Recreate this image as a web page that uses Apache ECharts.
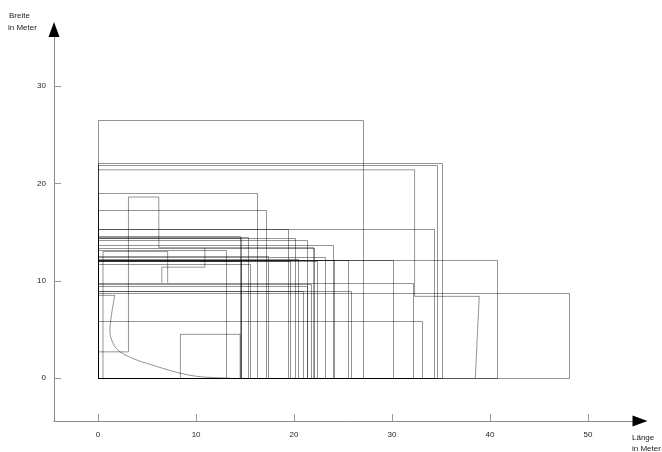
<!DOCTYPE html>
<html>
<head>
<meta charset="utf-8">
<script src="https://cdn.jsdelivr.net/npm/echarts@6/dist/echarts.min.js"></script>
<style>
    html, body { margin: 0; padding: 0; background: #fff; }
    #chart { width: 662px; height: 452px; }
</style>
</head>
<body>
<div id="chart"></div>
<script>
    // Länge / Breite der Rechtecke (alle ab Ursprung)
    var rectLength = [27.0, 34.6, 35.1, 16.2, 17.1, 34.3, 19.4, 14.5, 14.6, 15.3, 21.3, 22.0, 24.0,
        25.5, 30.1, 40.7, 23.2, 13.1, 14.6, 15.5, 17.3, 19.6, 20.4, 22.3, 20.1, 21.7, 21.3, 20.9,
        48.1, 33.1, 32.1, 25.8, 24.1];
    var rectWidth = [26.5, 21.9, 22.1, 19.0, 17.3, 15.3, 15.3, 14.6, 14.4, 14.5, 14.2, 13.4, 13.7,
        12.1, 12.1, 12.1, 12.4, 13.2, 12.0, 11.7, 12.5, 12.0, 12.2, 12.0, 14.4, 9.7, 9.5, 9.0,
        8.7, 5.9, 9.8, 9.0, 12.1];

    // Umrisse, die keine einfachen Rechtecke sind
    var outline1 = [[0, 21.4], [32.3, 21.4], [32.3, 8.4], [38.9, 8.4], [38.5, 0]];
    var outline2 = [[0, 2.7], [3.1, 2.7], [3.1, 18.6], [6.2, 18.6], [6.2, 13.4], [22.0, 13.4], [22.0, 0]];
    var outline3 = [[0.5, 0], [0.5, 13.0], [7.1, 13.0], [7.1, 9.8]];
    var outline4 = [[6.5, 9.8], [6.5, 11.4], [10.9, 11.4], [10.9, 13.4]];
    var outline5 = [[8.4, 0], [8.4, 4.5], [14.5, 4.5], [14.5, 0]];
    var hullCurve = [[0, 8.5], [1.7, 8.5], [1.2, 4.8], [1.9, 3.0], [3.6, 2.0], [6.0, 1.2], [8.4, 0.5],
        [10.4, 0.15], [13.5, 0]];

    var xTicks = [0, 10, 20, 30, 40, 50];
    var yTicks = [0, 10, 20, 30];

    var chart = echarts.init(document.getElementById('chart'));

    var rectData = [];
    for (var i = 0; i < rectLength.length; i++) {
        rectData.push([rectLength[i], rectWidth[i]]);
    }

    var lineColor = 'rgba(0,0,0,0.42)';

    function outlineSeries(pts) {
        return {
            type: 'line',
            data: pts,
            showSymbol: false,
            silent: true,
            lineStyle: { color: lineColor, width: 1 },
            z: 3
        };
    }

    // Achse nur fuer den schwarzen Pfeil (Linie selbst unsichtbar)
    function arrowAxis(type, min, max) {
        return {
            type: 'value',
            min: min,
            max: max,
            position: type === 'x' ? 'bottom' : 'left',
            splitLine: { show: false },
            axisTick: { show: false },
            axisLabel: { show: false },
            axisLine: {
                show: true,
                onZero: false,
                symbol: ['none', 'triangle'],
                symbolSize: [11, 15],
                symbolOffset: [0, 3],
                lineStyle: { color: '#000', width: 0 }
            }
        };
    }

    var option = {
        animation: false,
        backgroundColor: '#fff',
        grid: {
            left: 54,
            right: 25,
            top: 32.5,
            bottom: 31
        },
        xAxis: [{
            type: 'value',
            min: -4.5,
            max: 55,
            splitLine: { show: false },
            axisLine: {
                show: true,
                onZero: false,
                lineStyle: { color: '#888', width: 1 }
            },
            axisTick: {
                show: true,
                inside: true,
                length: 7,
                customValues: xTicks,
                lineStyle: { color: '#999' }
            },
            axisLabel: {
                customValues: xTicks,
                margin: 10,
                fontSize: 8,
                color: '#222',
                fontFamily: 'Liberation Sans'
            }
        }, arrowAxis('x', -4.5, 55)],
        yAxis: [{
            type: 'value',
            min: -4.4,
            max: 35.5,
            splitLine: { show: false },
            axisLine: {
                show: true,
                onZero: false,
                lineStyle: { color: '#888', width: 1 }
            },
            axisTick: {
                show: true,
                inside: true,
                length: 7,
                customValues: yTicks,
                lineStyle: { color: '#999' }
            },
            axisLabel: {
                customValues: yTicks,
                margin: 8,
                fontSize: 8,
                color: '#222',
                fontFamily: 'Liberation Sans'
            }
        }, arrowAxis('y', -4.4, 35.5)],
        graphic: [
            { type: 'text', left: 9, top: 12, style: { text: 'Breite', fontSize: 8, fill: '#222', fontFamily: 'Liberation Sans' } },
            { type: 'text', left: 8, top: 24, style: { text: 'in Meter', fontSize: 8, fill: '#222', fontFamily: 'Liberation Sans' } },
            { type: 'text', left: 632, top: 434, style: { text: 'Länge', fontSize: 8, fill: '#222', fontFamily: 'Liberation Sans' } },
            { type: 'text', left: 632, top: 445, style: { text: 'in Meter', fontSize: 8, fill: '#222', fontFamily: 'Liberation Sans' } }
        ],
        series: [
            {
                type: 'custom',
                data: rectData,
                silent: true,
                z: 3,
                renderItem: function (params, api) {
                    var p0 = api.coord([0, 0]);
                    var p1 = api.coord([api.value(0), api.value(1)]);
                    return {
                        type: 'rect',
                        shape: {
                            x: Math.round(p0[0]) + 0.5,
                            y: Math.round(p1[1]) + 0.5,
                            width: Math.round(p1[0]) - Math.round(p0[0]),
                            height: Math.round(p0[1]) - Math.round(p1[1])
                        },
                        style: { fill: 'none', stroke: lineColor, lineWidth: 1 }
                    };
                }
            },
            outlineSeries(outline1),
            outlineSeries(outline2),
            outlineSeries(outline3),
            outlineSeries(outline4),
            outlineSeries(outline5),
            Object.assign(outlineSeries(hullCurve), { smooth: 0.3 })
        ]
    };

    chart.setOption(option);
</script>
</body>
</html>
